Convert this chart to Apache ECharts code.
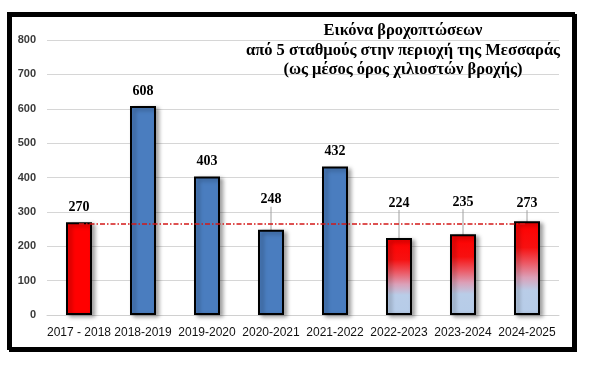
<!DOCTYPE html>
<html>
<head>
<meta charset="utf-8">
<script src="https://cdn.jsdelivr.net/npm/echarts@6/dist/echarts.min.js"></script>
<style>
  html, body { margin: 0; padding: 0; background: #ffffff; }
  #chart { width: 606px; height: 387px; }
</style>
</head>
<body>
<div id="chart"></div>
<script>
// ---- data ----
const categories = ['2017 - 2018', '2018-2019', '2019-2020', '2020-2021', '2021-2022', '2022-2023', '2023-2024', '2024-2025'];
const rainfall = [270, 608, 403, 248, 432, 224, 235, 273];
const barKind = ['red', 'blue', 'blue', 'blue', 'blue', 'gradient', 'gradient', 'gradient'];
const averageLine = 265;
const yTicks = { min: 0, max: 800, step: 100 };
const titleLines = ['Εικόνα βροχοπτώσεων', 'από 5 σταθμούς στην περιοχή της Μεσσαράς', '(ως μέσος όρος χιλιοστών βροχής)'];

// ---- styles (not data) ----
const labelDy = [0, 0, 0, -15, 0, -20, -17, -3];
const guideLine = [false, false, false, true, false, true, true, true];

const gradientFill = new echarts.graphic.LinearGradient(0, 0, 0, 1, [
  { offset: 0, color: '#ff0000' },
  { offset: 0.28, color: '#f71010' },
  { offset: 0.45, color: '#ec5a66' },
  { offset: 0.6, color: '#dba0b8' },
  { offset: 0.74, color: '#b9cde8' },
  { offset: 1, color: '#b6cce8' }
]);
const fills = { red: '#ff0000', blue: '#4a7dbf', gradient: gradientFill };

const barData = rainfall.map((v, i) => ({
  value: v,
  itemStyle: { color: fills[barKind[i]] },
  labelLine: { show: guideLine[i] }
}));

const chart = echarts.init(document.getElementById('chart'), null, { renderer: 'canvas' });
chart.setOption({
  backgroundColor: '#ffffff',
  animation: false,
  grid: { left: 47, right: 47, top: 40, bottom: 72 },
  xAxis: {
    type: 'category',
    data: categories,
    axisLine: { show: true, lineStyle: { color: '#d0d0d0', width: 1 } },
    axisTick: { show: false },
    axisLabel: { color: '#111111', fontSize: 12, fontFamily: 'Liberation Sans, Arial, sans-serif', margin: 12, interval: 0 }
  },
  yAxis: {
    type: 'value',
    min: yTicks.min,
    max: yTicks.max,
    interval: yTicks.step,
    axisLine: { show: false },
    axisTick: { show: false },
    splitLine: { lineStyle: { color: '#d6d6d6', width: 1 } },
    axisLabel: { color: '#3a3a3a', fontSize: 11, fontWeight: 'bold', fontFamily: 'Liberation Sans, Arial, sans-serif', margin: 11 }
  },
  graphic: [
    {
      type: 'rect',
      z: 0,
      silent: true,
      shape: { x: 8.5, y: 13.5, width: 565, height: 335 },
      style: { fill: 'none', stroke: '#000000', lineWidth: 3, shadowColor: '#000000', shadowOffsetX: 2, shadowOffsetY: 2, shadowBlur: 0 }
    },
    {
      type: 'text',
      z: 10,
      silent: true,
      style: {
        text: titleLines.join('\n'),
        x: 403,
        y: 21,
        align: 'center',
        verticalAlign: 'top',
        font: 'bold 16.5px "Liberation Serif", "Times New Roman", serif',
        lineHeight: 19.5,
        fill: '#000000'
      }
    }
  ],
  series: [
    {
      type: 'bar',
      data: barData,
      barWidth: 26,
      z: 3,
      itemStyle: {
        borderColor: '#000000',
        borderWidth: 2,
        shadowColor: 'rgba(0,0,0,0.35)',
        shadowBlur: 4,
        shadowOffsetX: 3,
        shadowOffsetY: 2
      },
      label: {
        show: true,
        position: 'top',
        distance: 8,
        color: '#000000',
        fontSize: 14,
        fontWeight: 'bold',
        fontFamily: '"Liberation Serif", "Times New Roman", serif'
      },
      labelLayout: function (p) { return { dy: labelDy[p.dataIndex] }; },
      labelLine: { lineStyle: { color: '#a0a0a0', width: 1 } },
      markLine: {
        silent: true,
        symbol: 'none',
        label: { show: false },
        lineStyle: { color: '#d41818', width: 1.6, type: [5, 2, 1.5, 2] },
        data: [[{ coord: [0, averageLine] }, { coord: [7, averageLine] }]]
      }
    }
  ]
});
</script>
</body>
</html>
